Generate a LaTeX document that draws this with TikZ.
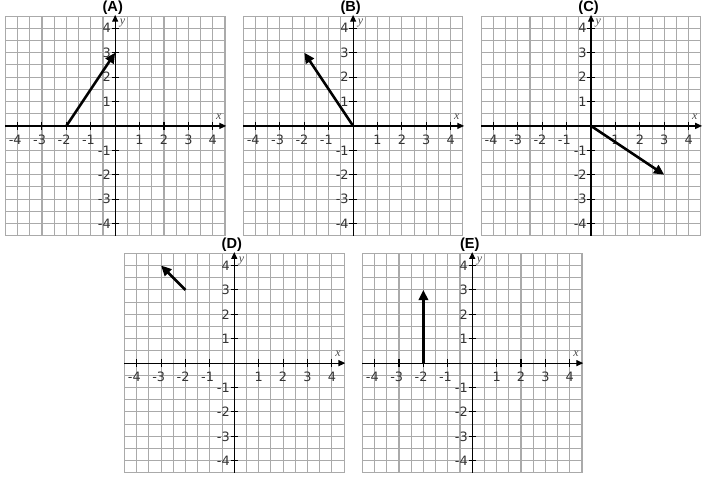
\documentclass[tikz,border=0pt]{standalone}
\usepackage{fontspec}
\setmainfont{DejaVu Sans}
\newfontfamily\titlefont{Liberation Sans}
\newfontfamily\varfont{Liberation Serif}
\usepackage{tikz}
\usetikzlibrary{arrows.meta}
\definecolor{gridGray}{RGB}{170,170,170}

\begin{document}
\begin{tikzpicture}[
    x=0.5cm, y=0.5cm,
    gridline/.style={draw=gridGray, line width=0.65pt},
    axisline/.style={draw=black, line width=0.7pt, -{Triangle[length=4pt, width=3.5pt]}},
    tickmark/.style={draw=black, line width=0.6pt},
    numlabel/.style={font=\fontsize{7.5}{8}\selectfont, text=black!80, inner sep=0pt},
    varlabel/.style={font=\varfont\itshape\fontsize{7}{8}\selectfont, text=black!70, inner sep=0pt},
    paneltitle/.style={font=\titlefont\bfseries\fontsize{8.5}{9}\selectfont, inner sep=0pt},
    vecarrow/.style={draw=black, line width=1.5pt, -{Triangle[length=6pt, width=5.5pt]}}
  ]
  \useasboundingbox (0,0) rectangle (28.89,-19.51);

  % one coordinate plane per answer choice
  \foreach \ox/\oy/\lbl in {4.72/-5.16/A, 14.47/-5.16/B, 24.22/-5.16/C, 9.6/-14.88/D, 19.35/-14.88/E} {
    \begin{scope}[shift={(\ox,\oy)}]
      \coordinate (o\lbl) at (0,0);
      \draw[gridline] (-4.5,-4.5) grid[step=0.5] (4.5,4.5);
      \draw[axisline] (-4.5,0) -- (4.55,0);
      \draw[axisline] (0,-4.5) -- (0,4.55);
      \foreach \i in {1,...,4} {
        \draw[tickmark] (\i,-0.15) -- (\i,0.15);
        \draw[tickmark] (-\i,-0.15) -- (-\i,0.15);
        \draw[tickmark] (-0.15,\i) -- (0.15,\i);
        \draw[tickmark] (-0.15,-\i) -- (0.15,-\i);
        \node[numlabel] (xp\lbl\i) at (\i,-0.55) {\i};
        \node[numlabel] (xn\lbl\i) at (-\i,-0.55) {\llap{-}\i};
        \node[numlabel] (yp\lbl\i) at (-0.35,\i) {\i};
        \node[numlabel] (yn\lbl\i) at (-0.35,-\i) {\llap{-}\i};
      }
      \node[varlabel] (xv\lbl) at (4.25,0.37) {x};
      \node[varlabel] (yv\lbl) at (0.3,4.2) {y};
      \node[paneltitle] (t\lbl) at (-0.1,4.84) {(\lbl)};
    \end{scope}
  }

  % the vectors
  \draw[vecarrow] ([shift={(-2,0)}]oA) -- ([shift={(0,3)}]oA);
  \draw[vecarrow] (oB) -- ([shift={(-2,3)}]oB);
  \draw[vecarrow] (oC) -- ([shift={(3,-2)}]oC);
  \draw[vecarrow] ([shift={(-2,3)}]oD) -- ([shift={(-3,4)}]oD);
  \draw[vecarrow] ([shift={(-2,0)}]oE) -- ([shift={(-2,3)}]oE);
\end{tikzpicture}
\end{document}
